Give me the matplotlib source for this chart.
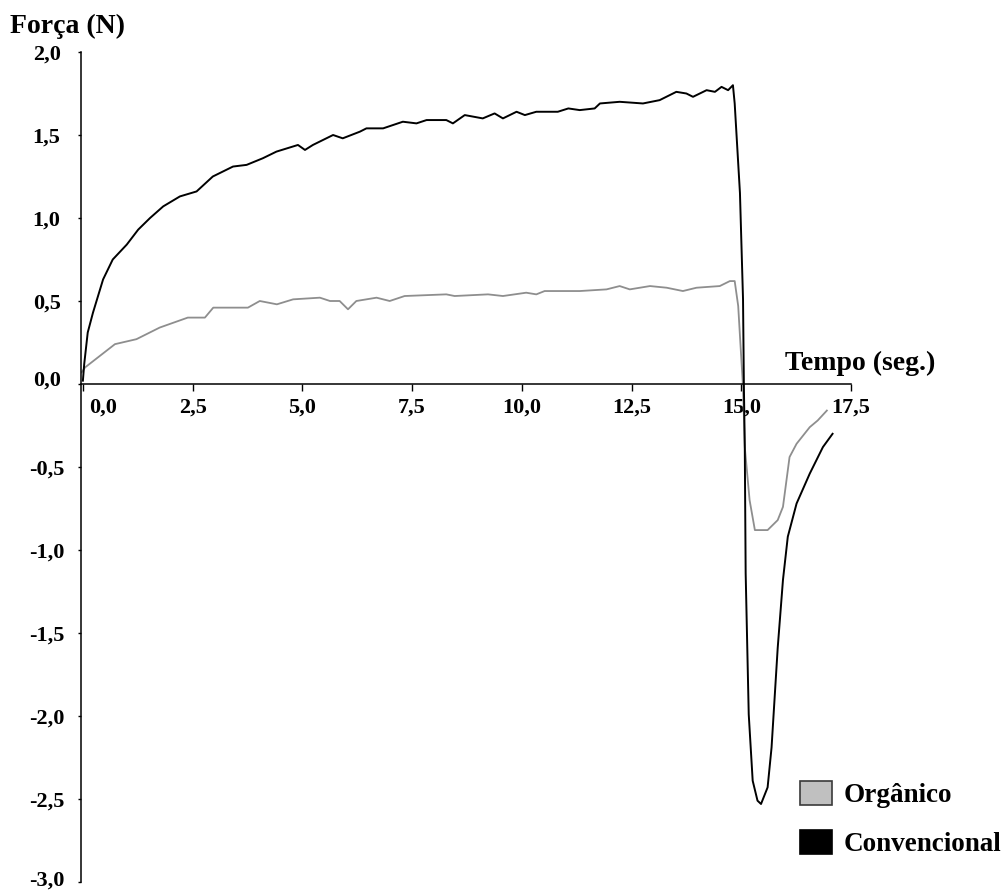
import numpy as np
import matplotlib
matplotlib.use("Agg")
import matplotlib.pyplot as plt
from matplotlib.patches import Patch
from matplotlib.transforms import ScaledTranslation

plt.rcParams['font.family'] = ['Liberation Serif', 'DejaVu Serif']
plt.rcParams['font.weight'] = 'bold'

# forca x tempo - convencional
t_conv = [0.0, 0.03, 0.11, 0.23, 0.46, 0.68, 1.0, 1.26, 1.53, 1.83, 2.21, 2.59, 2.96,
          3.42, 3.73, 4.10, 4.41, 4.90, 5.06, 5.24, 5.70, 5.92, 6.31, 6.46, 6.84, 7.29,
          7.60, 7.83, 8.28, 8.43, 8.70, 9.11, 9.38, 9.57, 9.88, 10.07, 10.33, 10.82,
          11.06, 11.32, 11.66, 11.78, 12.23, 12.76, 13.14, 13.52, 13.75, 13.90, 14.21,
          14.40, 14.55, 14.70, 14.81, 14.85, 14.93, 14.97, 15.04, 15.06, 15.08, 15.10,
          15.17, 15.26, 15.37, 15.45, 15.60, 15.69, 15.83, 15.95, 16.06, 16.26, 16.56,
          16.86, 17.08]
f_conv = [0.02, 0.12, 0.31, 0.43, 0.63, 0.75, 0.84, 0.93, 1.00, 1.07, 1.13, 1.16, 1.25,
          1.31, 1.32, 1.36, 1.40, 1.44, 1.41, 1.44, 1.50, 1.48, 1.52, 1.54, 1.54, 1.58,
          1.57, 1.59, 1.59, 1.57, 1.62, 1.60, 1.63, 1.60, 1.64, 1.62, 1.64, 1.64,
          1.66, 1.65, 1.66, 1.69, 1.70, 1.69, 1.71, 1.76, 1.75, 1.73, 1.77,
          1.76, 1.79, 1.77, 1.80, 1.69, 1.33, 1.15, 0.51, -0.02, -0.38, -1.14,
          -1.99, -2.39, -2.51, -2.53, -2.43, -2.19, -1.59, -1.18, -0.92, -0.72, -0.54,
          -0.38, -0.30]

# forca x tempo - organico
t_org = [-0.03, 0.05, 0.39, 0.73, 1.22, 1.75, 2.39, 2.78, 2.97, 3.76, 4.03, 4.42, 4.79,
         5.40, 5.63, 5.85, 6.04, 6.23, 6.69, 6.99, 7.33, 8.28, 8.47, 9.23, 9.57, 10.10,
         10.33, 10.52, 11.32, 11.93, 12.23, 12.46, 12.92, 13.30, 13.67, 13.98, 14.51,
         14.74, 14.85, 14.93, 14.97, 15.04, 15.08, 15.19, 15.31, 15.60, 15.83, 15.95,
         16.06, 16.10, 16.26, 16.56, 16.74, 16.95]
f_org = [0.07, 0.10, 0.17, 0.24, 0.27, 0.34, 0.40, 0.40, 0.46, 0.46, 0.50, 0.48, 0.51,
         0.52, 0.50, 0.50, 0.45, 0.50, 0.52, 0.50, 0.53, 0.54, 0.53, 0.54, 0.53, 0.55,
         0.54, 0.56, 0.56, 0.57, 0.59, 0.57, 0.59, 0.58, 0.56, 0.58, 0.59,
         0.62, 0.62, 0.47, 0.29, -0.02, -0.38, -0.70, -0.88, -0.88, -0.82, -0.74,
         -0.52, -0.44, -0.36, -0.26, -0.22, -0.16]

xticks = [0, 2.5, 5, 7.5, 10, 12.5, 15, 17.5]
xlabels = ['0,0', '2,5', '5,0', '7,5', '10,0', '12,5', '15,0', '17,5']
yticks = [2, 1.5, 1, 0.5, 0, -0.5, -1, -1.5, -2, -2.5, -3]
ylabels = ['2,0', '1,5', '1,0', '0,5', '0,0', '-0,5', '-1,0', '-1,5', '-2,0', '-2,5', '-3,0']

fig = plt.figure(figsize=(10.05, 8.92), dpi=100)
ax = fig.add_axes([80.7/1005, 1-882/892, (851-80.7)/1005, (882-52)/892])

ax.plot(t_org, f_org, color='#8e8e8e', lw=1.3)
ax.plot(t_conv, f_conv, color='black', lw=1.4)

ax.set_xlim(-0.05, 17.5)
ax.set_ylim(-3, 2)
ax.spines['top'].set_visible(False)
ax.spines['right'].set_visible(False)
ax.spines['bottom'].set_position(('data', 0))
for s in ('left', 'bottom'):
    ax.spines[s].set_linewidth(1.1)

ax.set_xticks(xticks)
ax.set_xticklabels(xlabels)
ax.set_yticks(yticks)
ax.set_yticklabels(ylabels, ha='center')
ax.tick_params(axis='x', direction='out', length=5, width=1, pad=5, labelsize=16)
ax.tick_params(axis='y', direction='out', length=2.5, width=1, pad=22, labelsize=16)

# afasta os rotulos do zero dos eixos
lx = ax.get_xticklabels()[0]
lx.set_transform(lx.get_transform() + ScaledTranslation(20/100, 0, fig.dpi_scale_trans))
ly = ax.get_yticklabels()[4]
ly.set_transform(ly.get_transform() + ScaledTranslation(0, 6/100, fig.dpi_scale_trans))
lb = ax.get_yticklabels()[-1]
lb.set_transform(lb.get_transform() + ScaledTranslation(0, 4/100, fig.dpi_scale_trans))

fig.text(10/1005, 1-14/892, 'Força (N)', ha='left', va='top', fontsize=20)
fig.text(785/1005, 1-351/892, 'Tempo (seg.)', ha='left', va='top', fontsize=20)

handles = [Patch(facecolor='#c0c0c0', edgecolor='#3a3a3a', lw=1.2),
           Patch(facecolor='black', edgecolor='black', lw=1.2)]
fig.legend(handles, ['Orgânico', 'Convencional'], loc='upper left',
           bbox_to_anchor=(800/1005, 1-781/892), frameon=False, fontsize=19.5,
           handlelength=1.18, handleheight=1.0, handletextpad=0.42,
           labelspacing=0.78, borderpad=0, borderaxespad=0)

fig.savefig('out.png', dpi=100)
